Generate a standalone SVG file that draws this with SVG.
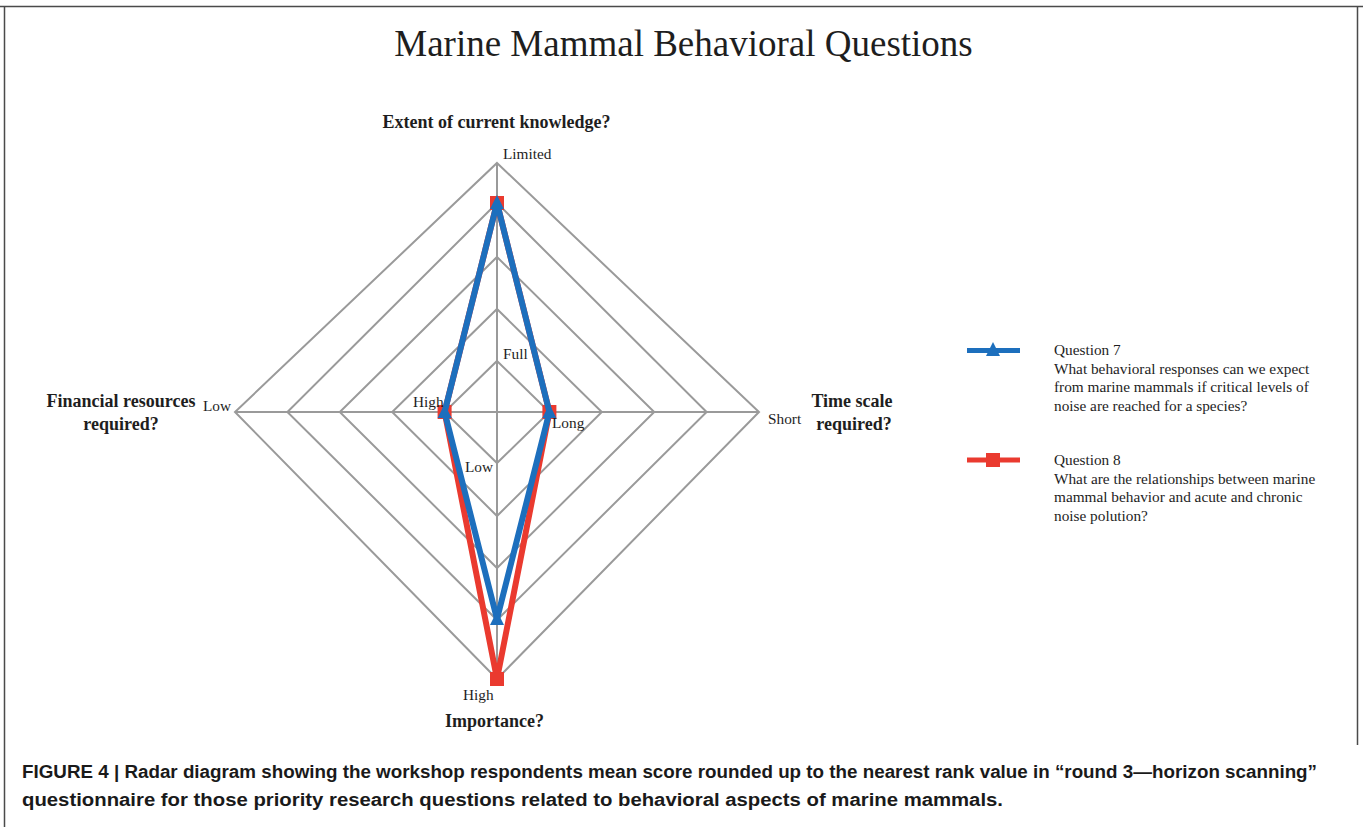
<svg xmlns="http://www.w3.org/2000/svg" width="1363" height="827" viewBox="0 0 1363 827">
<defs>
<style>
.frame{stroke:#4a4a4a;stroke-width:1.5;fill:none}
.grid{stroke:#9a9a9a;stroke-width:2;fill:none}
.t{font-family:"Liberation Serif","Times New Roman",serif;fill:#1e1e1e}
.lbl{font-size:15.3px}
.ax{font-size:18px;font-weight:bold}
.cap{font-family:"Liberation Sans",Arial,sans-serif;font-weight:bold;font-size:18px;fill:#1a1a1a}
.blue{stroke:#1d6fbd;stroke-width:6;fill:none;stroke-linejoin:round}
.red{stroke:#ea3a2f;stroke-width:6;fill:none;stroke-linejoin:round}
</style>
<polygon id="tri" points="0,-8 7,6 -7,6" fill="#1d6fbd"/>
<rect id="sq" x="-7" y="-7" width="14" height="14" fill="#ea3a2f"/>
</defs>
<rect width="1363" height="827" fill="#ffffff"/>
<g id="frame">
<line class="frame" x1="0" y1="6.5" x2="1363" y2="6.5"/>
<line class="frame" x1="4.5" y1="6" x2="4.5" y2="827"/>
<line class="frame" x1="1357.5" y1="6" x2="1357.5" y2="745"/>
</g>
<text id="title" class="t" x="683.5" y="56" font-size="37" text-anchor="middle">Marine Mammal Behavioral Questions</text>
<g id="grid">
<polygon class="grid" points="497,361 549.4,412 497,463 444.6,412"/>
<polygon class="grid" points="497,309 601.8,412 497,516 392.2,412"/>
<polygon class="grid" points="497,257 654.2,412 497,568 339.8,412"/>
<polygon class="grid" points="497,203 706.6,412 497,620 287.4,412"/>
<polygon class="grid" points="497,163 759,412 497,679 235,412"/>
<line class="grid" x1="497" y1="163" x2="497" y2="679"/>
<line class="grid" x1="235" y1="412" x2="759" y2="412"/>
</g>
<g id="series-q8">
<polygon class="red" points="497,203 549.4,412 497,679 444.6,412"/>
<use href="#sq" x="497" y="203"/>
<use href="#sq" x="549.4" y="412"/>
<use href="#sq" x="497" y="679"/>
<use href="#sq" x="444.6" y="412"/>
</g>
<g id="series-q7">
<polygon class="blue" points="497,203 549.4,412 497,619 444.6,412"/>
<use href="#tri" x="497" y="203"/>
<use href="#tri" x="549.4" y="412"/>
<use href="#tri" x="497" y="619"/>
<use href="#tri" x="444.6" y="412"/>
</g>
<g id="axis-labels">
<text class="t ax" x="496.5" y="128" text-anchor="middle">Extent of current knowledge?</text>
<text class="t lbl" x="503" y="159">Limited</text>
<text class="t lbl" x="503" y="359">Full</text>
<text class="t ax" x="121" y="407" text-anchor="middle">Financial resources</text>
<text class="t ax" x="121" y="430" text-anchor="middle">required?</text>
<text class="t lbl" x="203" y="411">Low</text>
<text class="t lbl" x="413" y="407">High</text>
<text class="t lbl" x="552" y="428">Long</text>
<text class="t lbl" x="465" y="472">Low</text>
<text class="t lbl" x="768" y="424">Short</text>
<text class="t ax" x="852" y="407" text-anchor="middle">Time scale</text>
<text class="t ax" x="854" y="430" text-anchor="middle">required?</text>
<text class="t lbl" x="463" y="700">High</text>
<text class="t ax" x="494.5" y="727" text-anchor="middle">Importance?</text>
</g>
<g id="legend-q7">
<line x1="967" y1="350.5" x2="1020" y2="350.5" stroke="#1d6fbd" stroke-width="5"/>
<use href="#tri" x="993" y="350"/>
<text class="t lbl" x="1054" y="355">Question 7</text>
<text class="t lbl" x="1054" y="373.5">What behavioral responses can we expect</text>
<text class="t lbl" x="1054" y="392">from marine mammals if critical levels of</text>
<text class="t lbl" x="1054" y="410.5">noise are reached for a species?</text>
</g>
<g id="legend-q8">
<line x1="967" y1="460" x2="1020" y2="460" stroke="#ea3a2f" stroke-width="5"/>
<use href="#sq" x="993" y="460"/>
<text class="t lbl" x="1054" y="465">Question 8</text>
<text class="t lbl" x="1054" y="483.5">What are the relationships between marine</text>
<text class="t lbl" x="1054" y="502">mammal behavior and acute and chronic</text>
<text class="t lbl" x="1054" y="520.5">noise polution?</text>
</g>
<g id="caption">
<text class="cap" x="22" y="778" textLength="1295" lengthAdjust="spacingAndGlyphs">FIGURE 4 | Radar diagram showing the workshop respondents mean score rounded up to the nearest rank value in “round 3—horizon scanning”</text>
<text class="cap" x="22" y="806" textLength="981" lengthAdjust="spacingAndGlyphs">questionnaire for those priority research questions related to behavioral aspects of marine mammals.</text>
</g>
</svg>
